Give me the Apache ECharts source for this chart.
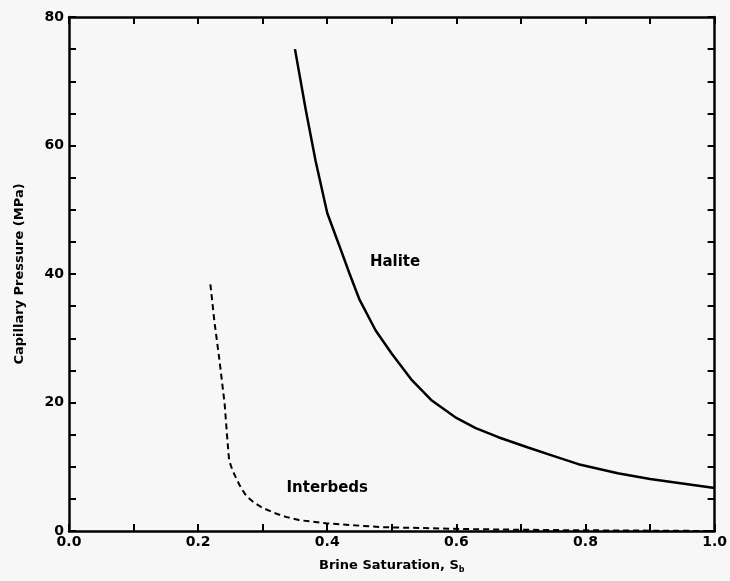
<!DOCTYPE html>
<html><head><meta charset="utf-8">
<script src="https://cdn.jsdelivr.net/npm/echarts@6/dist/echarts.min.js"></script>
<style>html,body{margin:0;padding:0;background:#f7f7f7;}#c{width:730px;height:581px;}</style>
</head><body><div id="c"></div>
<script>
const haliteX = [0.35, 0.367, 0.382, 0.40, 0.418, 0.434, 0.45, 0.475, 0.50, 0.53, 0.562, 0.60, 0.63, 0.665, 0.711, 0.75, 0.789, 0.85, 0.90, 0.95, 1.00];
const haliteY = [75, 65.4, 57.6, 49.5, 44.6, 40.2, 36.0, 31.2, 27.6, 23.6, 20.3, 17.6, 16.0, 14.6, 13.0, 11.7, 10.4, 9.0, 8.1, 7.4, 6.7];
const interbedsX = [0.219, 0.225, 0.233, 0.241, 0.245, 0.248, 0.253, 0.259, 0.266, 0.275, 0.287, 0.30, 0.318, 0.336, 0.356, 0.398, 0.44, 0.485, 0.55, 0.614, 0.74, 0.85, 1.00];
const interbedsY = [38.4, 32.8, 26.6, 19.9, 14.6, 11.0, 9.5, 8.2, 6.8, 5.4, 4.4, 3.6, 2.8, 2.2, 1.7, 1.2, 0.9, 0.6, 0.45, 0.3, 0.15, 0.08, 0.0];
const labelTexts = ['Halite', 'Interbeds'];
const labelPos = [[0.505, 41.8], [0.40, 6.7]];
const xTickLabels = ['0.0', '0.2', '0.4', '0.6', '0.8', '1.0'];
const yTickLabels = ['0', '20', '40', '60', '80'];

const font = 'DejaVu Sans';
const zip = (a, b) => a.map((v, i) => [v, b[i]]);
const chart = echarts.init(document.getElementById('c'));
const axStyle = {onZero: false, lineStyle: {color: '#000', width: 2.5}};
const tick = {show: true, inside: true, length: 7, lineStyle: {color: '#000', width: 2}};
chart.setOption({
  backgroundColor: '#f7f7f7',
  animation: false,
  grid: {left: 69, right: 13, top: 17, bottom: 50},
  xAxis: [{
    type: 'value', min: 0, max: 1, interval: 0.1, position: 'bottom',
    axisLine: axStyle, axisTick: tick, splitLine: {show: false},
    axisLabel: {color: '#000', fontFamily: font, fontWeight: 'bold', fontSize: 14, margin: 4,
      formatter: v => { const s = v.toFixed(1); return xTickLabels.includes(s) ? s : ''; }},
    name: '{a|Brine Saturation, S}{b|b}', nameLocation: 'middle', nameGap: 27,
    nameTextStyle: {rich: {
      a: {color: '#000', fontFamily: font, fontWeight: 'bold', fontSize: 13},
      b: {color: '#000', fontFamily: font, fontWeight: 'bold', fontSize: 8, padding: [8, 0, 0, 0]}}}
  }, {
    type: 'value', min: 0, max: 1, interval: 0.1, position: 'top',
    axisLine: axStyle, axisTick: tick, axisLabel: {show: false}, splitLine: {show: false}
  }],
  yAxis: [{
    type: 'value', min: 0, max: 80, interval: 5, position: 'left',
    axisLine: axStyle, axisTick: tick, splitLine: {show: false},
    axisLabel: {color: '#000', fontFamily: font, fontWeight: 'bold', fontSize: 14, margin: 5,
      formatter: v => yTickLabels.includes(String(v)) ? String(v) : ''},
    name: 'Capillary Pressure (MPa)', nameLocation: 'middle', nameGap: 43, nameRotate: 90,
    nameTextStyle: {color: '#000', fontFamily: font, fontWeight: 'bold', fontSize: 13}
  }, {
    type: 'value', min: 0, max: 80, interval: 5, position: 'right',
    axisLine: axStyle, axisTick: tick, axisLabel: {show: false}, splitLine: {show: false}
  }],
  series: [{
    type: 'line', data: zip(haliteX, haliteY), showSymbol: false,
    lineStyle: {color: '#000', width: 2.5}
  }, {
    type: 'line', data: zip(interbedsX, interbedsY), showSymbol: false,
    lineStyle: {color: '#000', width: 2, type: [6, 4]}
  }]
});
chart.setOption({
  graphic: labelPos.map((p, i) => {
    const px = chart.convertToPixel({gridIndex: 0}, p);
    return {type: 'text', x: px[0], y: px[1],
      style: {text: labelTexts[i], fill: '#000', font: 'bold 15px "DejaVu Sans"', align: 'center', verticalAlign: 'middle'}};
  })
});
</script></body></html>
